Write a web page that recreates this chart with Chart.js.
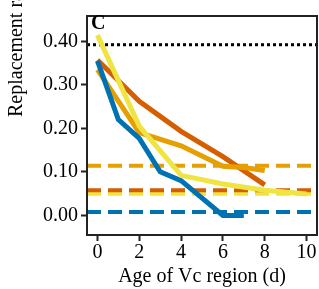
<!DOCTYPE html>
<html>
<head>
<meta charset="utf-8">
<script src="https://cdn.jsdelivr.net/npm/chart.js@4.4.0/dist/chart.umd.min.js"></script>
<style>
  html, body { margin: 0; padding: 0; background: #fff; }
  canvas { display: block; }
</style>
</head>
<body>
<canvas id="myChart" width="319" height="289"></canvas>
<script>
"use strict";

// axis range and ticks
const xRange = [-0.5, 10.5];
const yRange = [-0.045, 0.458];
const xTicks = [0, 2, 4, 6, 8, 10];
const yTicks = [0, 0.1, 0.2, 0.3, 0.4];

// solid curves (age in days, replacement rate)
const blueAge = [0, 1, 2, 3, 4, 6, 7];
const blueRate = [0.355, 0.22, 0.177, 0.10, 0.08, 0.0, 0.0];
const redAge = [0, 2, 4, 6, 8];
const redRate = [0.357, 0.262, 0.193, 0.135, 0.07];
const orangeAge = [0, 2, 4, 6, 7, 8];
const orangeRate = [0.335, 0.19, 0.16, 0.113, 0.11, 0.103];
const yellowAge = [0, 2, 4, 6, 8, 10];
const yellowRate = [0.414, 0.205, 0.092, 0.072, 0.058, 0.049];

// horizontal reference levels
const refColors = ['#E69F00', '#D55E00', '#F0E442', '#0072B2'];
const refLevels = [0.114, 0.058, 0.050, 0.008];
const dottedLevel = 0.392;

const serif = '"Liberation Serif", "Times New Roman", serif';

const pairs = (xs, ys) => xs.map((x, i) => ({x: x, y: ys[i]}));
const flat = (v) => [{x: xRange[0], y: v}, {x: xRange[1], y: v}];

const solid = (data, color) => ({
	data: data,
	borderColor: color,
	borderWidth: 5,
	pointRadius: 0,
	tension: 0,
	borderJoinStyle: 'miter',
	fill: false
});

const datasets = [
	solid(pairs(yellowAge, yellowRate), '#F0E442'),
	solid(pairs(blueAge, blueRate), '#0072B2'),
	solid(pairs(orangeAge, orangeRate), '#E69F00'),
	solid(pairs(redAge, redRate), '#D55E00')
];
refLevels.forEach((v, i) => {
	datasets.push({
		data: flat(v),
		borderColor: refColors[i],
		borderWidth: 4,
		borderDash: [14, 7],
		pointRadius: 0,
		fill: false
	});
});
datasets.push({
	data: flat(dottedLevel),
	borderColor: '#000',
	borderWidth: 3,
	borderDash: [3, 3],
	pointRadius: 0,
	fill: false
});

// frame, panel letter and y title
const extras = {
	id: 'extras',
	afterDatasetsDraw(chart) {
		const ctx = chart.ctx;
		const a = chart.chartArea;
		ctx.save();
		ctx.strokeStyle = '#222';
		ctx.lineWidth = 2;
		ctx.strokeRect(a.left, a.top, a.right - a.left, a.bottom - a.top);
		ctx.fillStyle = '#000';
		ctx.font = 'bold 20px ' + serif;
		ctx.textBaseline = 'alphabetic';
		ctx.fillText('C', a.left + 4, a.top + 13);
		ctx.font = '20px ' + serif;
		ctx.translate(22, 117);
		ctx.rotate(-Math.PI / 2);
		ctx.textAlign = 'left';
		ctx.fillText('Replacement rate', 0, 0);
		ctx.restore();
	}
};

const tickGrid = {
	display: true,
	drawOnChartArea: false,
	drawTicks: true,
	tickLength: 6,
	tickWidth: 2,
	tickColor: '#222'
};

const config = {
	type: 'line',
	data: {datasets: datasets},
	options: {
		responsive: false,
		animation: false,
		devicePixelRatio: 1,
		layout: {padding: {left: 40, top: 16, right: 2, bottom: 0}},
		plugins: {
			legend: {display: false},
			tooltip: {enabled: false}
		},
		scales: {
			x: {
				type: 'linear',
				min: xRange[0],
				max: xRange[1],
				afterBuildTicks: (s) => { s.ticks = xTicks.map(v => ({value: v})); },
				grid: tickGrid,
				border: {display: false},
				ticks: {
					color: '#000',
					padding: 0,
					maxRotation: 0,
					font: {family: serif, size: 20}
				},
				title: {
					display: true,
					text: 'Age of Vc region (d)',
					color: '#000',
					padding: 0,
					font: {family: serif, size: 20}
				}
			},
			y: {
				min: yRange[0],
				max: yRange[1],
				afterBuildTicks: (s) => { s.ticks = yTicks.map(v => ({value: v})); },
				grid: tickGrid,
				border: {display: false},
				ticks: {
					color: '#000',
					padding: 3,
					font: {family: serif, size: 20},
					callback: (v) => v.toFixed(2)
				}
			}
		}
	},
	plugins: [extras]
};

const myChart = new Chart(document.getElementById('myChart'), config);
</script>
</body>
</html>
